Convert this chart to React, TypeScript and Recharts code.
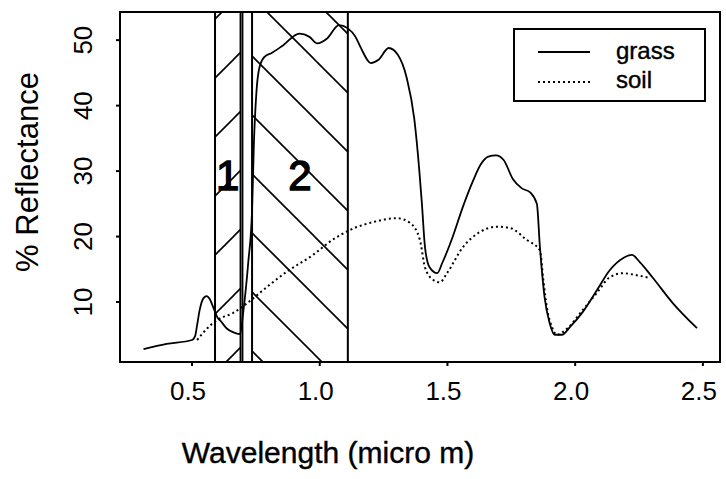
import { LineChart, Line, XAxis, YAxis, ReferenceArea, ReferenceLine, Label, Legend } from "recharts";

// wavelength (micro m) / % reflectance
const grassWl = [0.31, 0.4, 0.5, 0.512, 0.52, 0.53, 0.545, 0.557, 0.57, 0.582, 0.6, 0.61, 0.635, 0.66, 0.688, 0.7, 0.72, 0.735, 0.742, 0.752, 0.765, 0.785, 0.81, 0.856, 0.92, 0.96, 0.99, 1.03, 1.075, 1.11, 1.14, 1.16, 1.2, 1.23, 1.27, 1.305, 1.34, 1.37, 1.39, 1.4, 1.412, 1.43, 1.46, 1.48, 1.52, 1.56, 1.6, 1.63, 1.66, 1.69, 1.72, 1.756, 1.79, 1.825, 1.85, 1.862, 1.88, 1.9, 1.92, 1.948, 1.98, 2.03, 2.085, 2.136, 2.187, 2.222, 2.253, 2.304, 2.383, 2.477];
const grassRefl = [2.8, 3.6, 4.2, 4.8, 6.5, 8.8, 10.6, 10.9, 10.4, 9.3, 7.6, 7.2, 6.0, 5.4, 5.1, 8.3, 16, 24, 34, 42, 46, 47.5, 48, 49.2, 51, 50.5, 49.5, 50.3, 52.3, 51.8, 50.5, 48.9, 46.5, 47, 48.8, 47.8, 44.3, 38, 30, 25, 18.4, 15.3, 14.4, 16, 19.9, 24.5, 28.5, 31, 32.2, 32.4, 31.7, 28.8, 27.4, 26.7, 25, 18.4, 10.8, 6.8, 5, 5, 6.2, 8.5, 11.8, 14.9, 16.7, 17.2, 16.1, 13.7, 9.8, 6];

const soilWl = [0.52, 0.56, 0.6, 0.66, 0.715, 0.793, 0.87, 0.974, 1.05, 1.118, 1.208, 1.302, 1.353, 1.392, 1.412, 1.443, 1.47, 1.498, 1.561, 1.627, 1.694, 1.745, 1.81, 1.862, 1.875, 1.89, 1.909, 1.928, 1.97, 2.03, 2.085, 2.136, 2.187, 2.24, 2.29];
const soilRefl = [4.2, 6, 7.3, 8.3, 9.8, 12.3, 14.6, 17.2, 19.5, 21, 22.2, 22.8, 22.1, 19.5, 15.3, 13.4, 13, 14.4, 18.4, 20.7, 21.5, 21.3, 19.5, 17.9, 13.5, 9, 6.2, 5, 6, 8.8, 11.4, 13.8, 14.4, 14.1, 13.7];

const xTicks = [0.5, 1.0, 1.5, 2.0, 2.5];
const yTicks = [10, 20, 30, 40, 50];
const xDomain = [0.218, 2.567];
const yDomain = [0.84, 54.3];

// satellite bands drawn as hatched strips
const bandLabels = ["1", "2"];
const bandStart = [0.59, 0.735];
const bandEnd = [0.69, 1.11];
const band1Edge = 0.698;

const grassData = grassWl.map((wl, i) => ({ wl, refl: grassRefl[i] }));
const soilData = soilWl.map((wl, i) => ({ wl, refl: soilRefl[i] }));

const FONT = "'Liberation Sans', Arial, sans-serif";

const XTick = ({ x, y, payload }: any) => (
  <text x={x - 4} y={y} dy={34} textAnchor="middle" fontFamily={FONT} fontSize={26} fill="#000">
    {payload.value.toFixed(1)}
  </text>
);

const YTick = ({ x, y, payload }: any) => (
  <text x={x} y={y} transform={`rotate(-90, ${x}, ${y})`} textAnchor="middle" fontFamily={FONT} fontSize={26} fill="#000">
    {payload.value}
  </text>
);

const LegendBox = () => (
  <div style={{ width: 189, height: 70, border: "2px solid #000", background: "#fff", position: "relative" }}>
    <svg width={189} height={70} style={{ position: "absolute", left: 0, top: 0 }}>
      <line x1={23} x2={75} y1={22} y2={22} stroke="#000" strokeWidth={1.8} />
      <line x1={23} x2={75} y1={52} y2={52} stroke="#000" strokeWidth={1.8} strokeDasharray="2 3" />
      <text x={101} y={29} fontFamily={FONT} fontSize={24} stroke="#000" strokeWidth={0.4}>grass</text>
      <text x={101} y={58} fontFamily={FONT} fontSize={24} stroke="#000" strokeWidth={0.4}>soil</text>
    </svg>
  </div>
);

export default function App() {
  return (
    <div style={{ position: "absolute", left: 0, top: 0, background: "#fff" }}>
      <LineChart width={726} height={479} margin={{ top: 12, right: 6, left: 80, bottom: 77 }}>
        <defs>
          <pattern id="hatchUp" patternUnits="userSpaceOnUse" width={59} height={59} x={57} y={0}>
            <path d="M0,59 L59,0 M-10,10 L10,-10 M49,69 L69,49" stroke="#000" strokeWidth={1.6} />
          </pattern>
          <pattern id="hatchDown" patternUnits="userSpaceOnUse" width={59} height={59} x={19} y={0}>
            <path d="M0,0 L59,59 M-10,49 L10,69 M49,-10 L69,10" stroke="#000" strokeWidth={1.6} />
          </pattern>
        </defs>
        <XAxis
          dataKey="wl"
          type="number"
          domain={xDomain}
          ticks={xTicks}
          tick={<XTick />}
          tickSize={4}
          tickMargin={0}
          height={40}
          stroke="#000"
          strokeWidth={2}
          allowDataOverflow
        >
          <Label
            content={({ viewBox }: any) => (
              <text x={viewBox.x + 208} y={viewBox.y + 101} textAnchor="middle" fontFamily={FONT} fontSize={30} fill="#000" stroke="#000" strokeWidth={0.4}>
                Wavelength (micro m)
              </text>
            )}
          />
        </XAxis>
        <YAxis
          type="number"
          domain={yDomain}
          ticks={yTicks}
          tick={<YTick />}
          tickSize={4}
          tickMargin={24}
          width={40}
          stroke="#000"
          strokeWidth={2}
          allowDataOverflow
        >
          <Label
            content={({ viewBox }: any) => (
              <text
                x={viewBox.x - 42}
                y={172}
                transform={`rotate(-90, ${viewBox.x - 42}, 172)`}
                textAnchor="middle"
                fontFamily={FONT}
                fontSize={31}
                fill="#000"
              >
                % Reflectance
              </text>
            )}
          />
        </YAxis>
        <ReferenceArea x1={bandStart[0]} x2={bandEnd[0]} fill="url(#hatchUp)" fillOpacity={1} stroke="#000" strokeWidth={2}>
          <Label value={bandLabels[0]} position="center" dy={-12} fontFamily={FONT} fontSize={42} fill="#000" stroke="#000" strokeWidth={1.4} />
        </ReferenceArea>
        <ReferenceArea x1={bandStart[1]} x2={bandEnd[1]} fill="url(#hatchDown)" fillOpacity={1} stroke="#000" strokeWidth={2}>
          <Label value={bandLabels[1]} position="center" dy={-12} fontFamily={FONT} fontSize={42} fill="#000" stroke="#000" strokeWidth={1.4} />
        </ReferenceArea>
        <ReferenceLine x={band1Edge} stroke="#000" strokeWidth={1.6} />
        <Line data={soilData} dataKey="refl" name="soil" type="monotone" dot={false} stroke="#000" strokeWidth={2} strokeDasharray="2 3" isAnimationActive={false} />
        <Line data={grassData} dataKey="refl" name="grass" type="monotone" dot={false} stroke="#000" strokeWidth={1.8} isAnimationActive={false} />
        <ReferenceArea x1={xDomain[0]} x2={xDomain[1]} y1={yDomain[0]} y2={yDomain[1]} fill="none" stroke="#000" strokeWidth={2} />
        <Legend
          layout="horizontal"
          verticalAlign="middle"
          align="center"
          content={<LegendBox />}
          wrapperStyle={{ position: "absolute", left: 513, top: 28, width: 193, height: 74 }}
        />
      </LineChart>
    </div>
  );
}
